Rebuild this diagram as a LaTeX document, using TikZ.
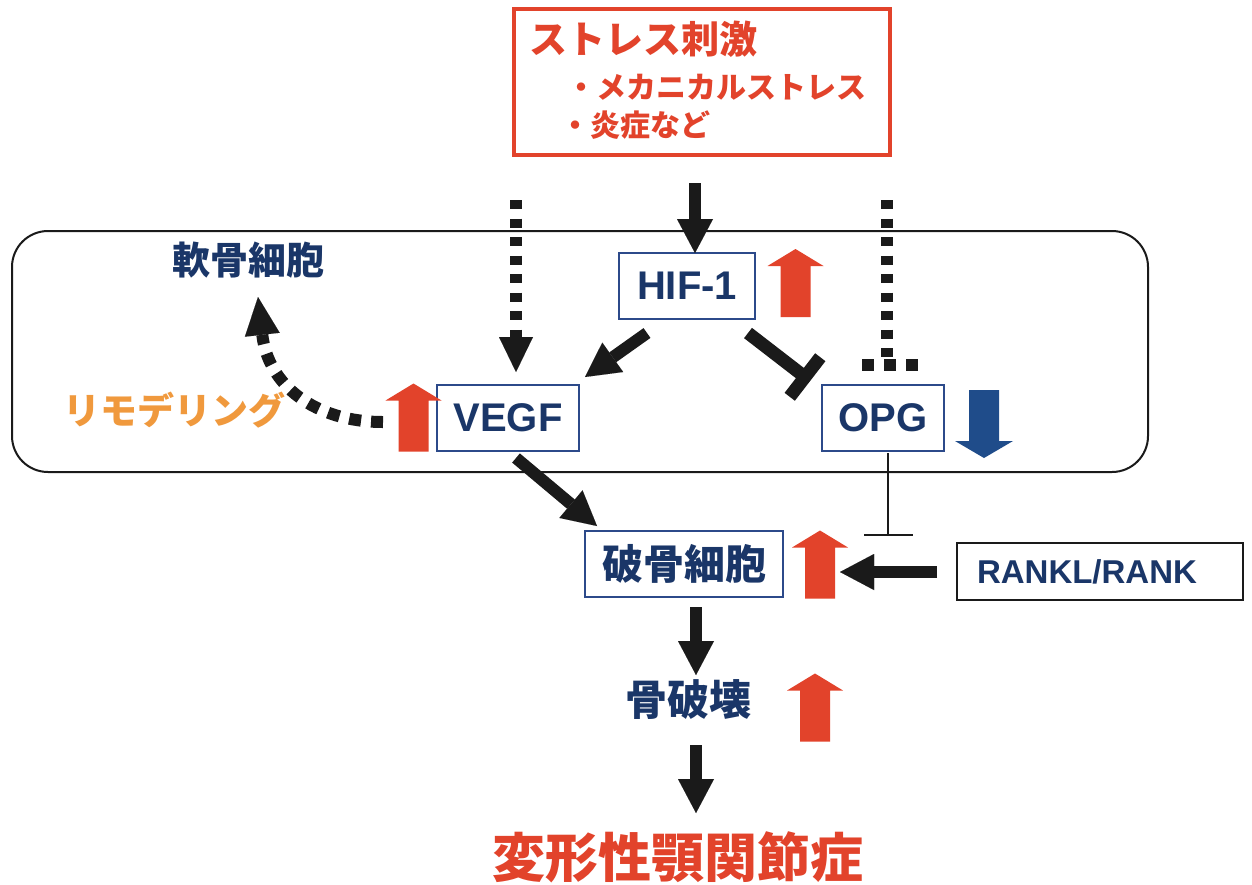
\documentclass[tikz,border=0pt]{standalone}
\usepackage{fontspec}
\newfontfamily\lat{Liberation Sans}
\newfontfamily\jp{Noto Sans CJK JP}
\usetikzlibrary{arrows.meta,calc}
\definecolor{jred}{HTML}{E2432B}
\definecolor{navy}{HTML}{1A3668}
\definecolor{boxblue}{HTML}{2C4A8A}
\definecolor{jorange}{HTML}{F0993D}
\definecolor{dblue}{HTML}{1F4C8A}
\definecolor{ink}{HTML}{1A1A1A}
\tikzset{
  fbox/.style={draw=boxblue, line width=2.5pt, fill=white, inner sep=0pt, text=navy},
  latlab/.style={font=\lat\bfseries\fontsize{40}{40}\selectfont},
  jplab/.style={font=\jp\bfseries\fontsize{#1}{#1}\selectfont, inner sep=0pt},
  bigarrow/.style={draw=ink, line width=12pt, -{Triangle[width=36pt,length=34pt,line width=0.01pt]}},
  dotline/.style={draw=ink, line width=12pt, dash pattern=on 9pt off 9.5pt},
  curvedot/.style={draw=ink, line width=12pt, dash pattern=on 12pt off 10pt},
  blockup/.pic={\fill[pic actions] (-15,34) -- (-15,-17) -- (-28,-17) -- (0,-34) -- (28,-17) -- (15,-17) -- (15,34) -- cycle;},
  blockdown/.pic={\fill[pic actions] (-15,-34) -- (-15,17) -- (-29,17) -- (0,34) -- (29,17) -- (15,17) -- (15,-34) -- cycle;}
}
\begin{document}
\begin{tikzpicture}[x=1pt,y=-1pt]
\useasboundingbox[fill=white] (0,0) rectangle (1252,884);

% cell region
\node[draw=ink, line width=2pt, rounded corners=36pt, minimum width=1136pt, minimum height=241pt, inner sep=0pt] (cell) at (580,351.5) {};

% stress box
\node[draw=jred, line width=4pt, minimum width=376pt, minimum height=146pt, inner sep=0pt] (stress) at (702,82) {};
\node[jplab=38, text=jred, anchor=west] (st1) at (529,39) {ストレス刺激};
\node[jplab=30, text=jred, anchor=west] (st2) at (566,87) {・メカニカルストレス};
\node[jplab=30, text=jred, anchor=west] (st3) at (560,125) {・炎症など};

% boxes
\node[fbox, latlab, minimum width=136pt, minimum height=66pt] (hif) at (687,286) {HIF-1};
\node[fbox, latlab, minimum width=142pt, minimum height=66pt] (vegf) at (508,418) {VEGF};
\node[fbox, latlab, minimum width=122pt, minimum height=66pt] (opg) at (883,418) {OPG};
\node[fbox, jplab=41, minimum width=198pt, minimum height=66pt] (oc) at (684,564) {破骨細胞};
\node[draw=ink, line width=2pt, minimum width=286pt, minimum height=57pt, inner sep=0pt, text=navy, font=\lat\bfseries\fontsize{33}{33}\selectfont] (rankl) at (1100,571.5) {\hspace*{-26pt}RANKL/RANK};

% plain labels
\node[jplab=38, text=navy] (chondro) at (248,260) {軟骨細胞};
\node[jplab=37, text=jorange] (remod) at (174,410) {リモデリング};
\node[jplab=42, text=navy] (bone) at (688,700) {骨破壊};
\node[jplab=53, text=jred] (oa) at (678,857) {変形性顎関節症};

% block arrows
\pic[fill=jred] at (795.5,283) {blockup};
\pic[fill=jred] at (413.5,417.5) {blockup};
\pic[fill=jred] at (820,564.5) {blockup};
\pic[fill=jred] at (815,707.5) {blockup};
\pic[fill=dblue] at (984,424) {blockdown};

% connector end points
\coordinate (a1s) at (695,183);
\coordinate (a1e) at (695,253);
\coordinate (hv_s) at (647,333);
\coordinate (hv_e) at (585,377);
\coordinate (ho_s) at (748,333);
\coordinate (ho_e) at (805,377);
\coordinate (vo_s) at (516,458);
\coordinate (vo_e) at (597,526);
\coordinate (r_s) at (937,572);
\coordinate (r_e) at (840,572);
\coordinate (ob_s) at (696,607);
\coordinate (ob_e) at (696,675);
\coordinate (bo_s) at (696,745);
\coordinate (bo_e) at (696,813);
\coordinate (dv_s) at (516,200);
\coordinate (dv_e) at (516,372);
\coordinate (do_s) at (887,200);
\coordinate (do_e) at (887,359);
\coordinate (rem_s) at (383,422);
\coordinate (rem_e) at (258,297);
\coordinate (og_s) at (888,453);
\coordinate (og_e) at (888,535);

% solid arrows
\draw[bigarrow] (a1s) -- (a1e);
\draw[bigarrow] (hv_s) -- (hv_e);
\draw[bigarrow] (vo_s) -- (vo_e);
\draw[bigarrow] (r_s) -- (r_e);
\draw[bigarrow] (ob_s) -- (ob_e);
\draw[bigarrow] (bo_s) -- (bo_e);

% HIF-1 inhibits OPG
\draw[draw=ink, line width=13pt] (ho_s) -- (ho_e);
\draw[draw=ink, line width=13pt] ($(ho_e)!25pt!90:(ho_s)$) -- ($(ho_e)!25pt!-90:(ho_s)$);

% dotted arrows
\draw[dotline, -{Triangle[width=34pt,length=35pt,line width=0.01pt]}] (dv_s) -- (dv_e);
\draw[dotline] (do_s) -- (do_e);
\draw[draw=ink, line width=12pt, dash pattern=on 12pt off 10pt] (862,365) -- (918,365);
\draw[curvedot, -{Triangle[width=35pt,length=38pt,line width=0.01pt]}] (rem_s) .. controls (315,422) and (268,385) .. (rem_e);

% OPG inhibits RANKL effect
\draw[draw=ink, line width=1.6pt] (og_s) -- (og_e);
\draw[draw=ink, line width=2.2pt] ($(og_e)+(-24,0)$) -- ($(og_e)+(25,0)$);
\end{tikzpicture}
\end{document}
